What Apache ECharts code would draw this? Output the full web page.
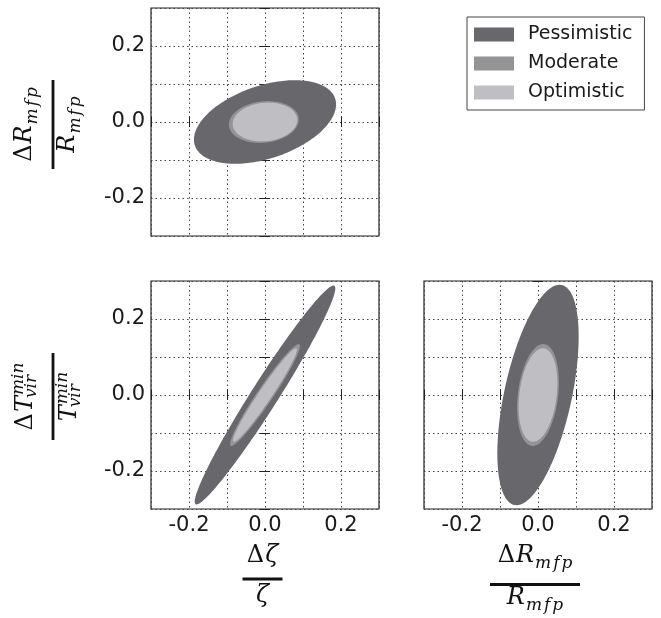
<!DOCTYPE html>
<html><head><meta charset="utf-8">
<script src="https://cdn.jsdelivr.net/npm/echarts@6/dist/echarts.min.js"></script>
<style>html,body{margin:0;padding:0;background:#fff}#c{width:661px;height:618px}</style>
</head><body><div id="c"></div>
<script>
// ---------------- data ----------------
const scenarios = ['Pessimistic', 'Moderate', 'Optimistic'];
const scenarioColors = ['#68686c', '#949497', '#bfbfc3'];
const axisTicks = [-0.3, -0.2, -0.1, 0.0, 0.1, 0.2, 0.3];
const tickLabels = ['', '-0.2', '', '0.0', '', '0.2', ''];

// Error ellipses: half-extent along x, half-extent along y, correlation coefficient
// Panel A (top-left): Δζ/ζ (x) vs ΔRmfp/Rmfp (y)
const panelA_centerX = [0.0, -0.003, 0.0];
const panelA_centerY = [0.0, 0.0, 0.0];
const panelA_halfX = [0.187, 0.092, 0.085];
const panelA_halfY = [0.110, 0.055, 0.051];
const panelA_rho = [0.42, 0.12, 0.10];
// Panel B (bottom-left): Δζ/ζ (x) vs ΔTvir/Tvir (y)
const panelB_centerX = [0.0, 0.0, 0.0];
const panelB_centerY = [0.0, 0.0, 0.0];
const panelB_halfX = [0.185, 0.092, 0.084];
const panelB_halfY = [0.288, 0.134, 0.123];
const panelB_rho = [0.974, 0.962, 0.970];
// Panel C (bottom-right): ΔRmfp/Rmfp (x) vs ΔTvir/Tvir (y)
const panelC_centerX = [0.0, 0.0, 0.0];
const panelC_centerY = [0.0, 0.0, 0.0];
const panelC_halfX = [0.107, 0.055, 0.051];
const panelC_halfY = [0.290, 0.134, 0.123];
const panelC_rho = [0.53, 0.25, 0.25];

// ---------------- chart ----------------
const chart = echarts.init(document.getElementById('c'), null, {renderer: 'canvas'});

const grids = [
  {left: 151, top: 8, width: 228, height: 228},
  {left: 151, top: 281, width: 228, height: 228},
  {left: 424, top: 281, width: 228, height: 228}
];
const showXLabels = [false, true, true];
const showYLabels = [true, true, false];
const tickFont = {fontFamily: 'DejaVu Sans', fontSize: 21, color: '#1a1a1a'};

function labelFmt(v) {
  const i = Math.round((v + 0.3) * 10);
  return tickLabels[i] !== undefined ? tickLabels[i] : '';
}
function baseAxis(extra) {
  return Object.assign({
    type: 'value', min: axisTicks[0], max: axisTicks[axisTicks.length - 1], interval: 0.1,
    axisLine: {show: false},
    axisTick: {show: true, inside: true, length: 5, lineStyle: {color: '#222', width: 1}},
    splitLine: {show: false},
    axisLabel: {show: false}
  }, extra);
}
const xAxes = [], yAxes = [];
grids.forEach((g, i) => {
  xAxes.push(baseAxis({gridIndex: i, position: 'bottom',
    splitLine: {show: true, lineStyle: {color: '#444', type: [1.5, 3], width: 1}},
    axisLabel: Object.assign({show: showXLabels[i], margin: 6, formatter: labelFmt, showMinLabel: true, showMaxLabel: true}, tickFont)}));
  xAxes.push(baseAxis({gridIndex: i, position: 'top'}));
  yAxes.push(baseAxis({gridIndex: i, position: 'left',
    splitLine: {show: true, lineStyle: {color: '#444', type: [1.5, 3], width: 1}},
    axisLabel: Object.assign({show: showYLabels[i], margin: 6, formatter: labelFmt, showMinLabel: true, showMaxLabel: true}, tickFont)}));
  yAxes.push(baseAxis({gridIndex: i, position: 'right'}));
});

function renderEllipse(params, api) {
  const cx = api.value(0), cy = api.value(1), a = api.value(2), b = api.value(3), r = api.value(4);
  const s = Math.sqrt(1 - r * r);
  const pts = [];
  const n = 200;
  for (let k = 0; k < n; k++) {
    const t = 2 * Math.PI * k / n;
    pts.push(api.coord([cx + a * Math.cos(t), cy + b * (r * Math.cos(t) + s * Math.sin(t))]));
  }
  return {type: 'polygon', shape: {points: pts}, style: {fill: api.visual('color')}};
}

const panels = [
  {cx: panelA_centerX, cy: panelA_centerY, hx: panelA_halfX, hy: panelA_halfY, rho: panelA_rho},
  {cx: panelB_centerX, cy: panelB_centerY, hx: panelB_halfX, hy: panelB_halfY, rho: panelB_rho},
  {cx: panelC_centerX, cy: panelC_centerY, hx: panelC_halfX, hy: panelC_halfY, rho: panelC_rho}
];
const series = [];
panels.forEach((p, gi) => {
  scenarios.forEach((name, si) => {
    series.push({
      type: 'custom', name: name,
      xAxisIndex: gi * 2, yAxisIndex: gi * 2,
      itemStyle: {color: scenarioColors[si]},
      renderItem: renderEllipse,
      encode: {x: 0, y: 1},
      silent: true,
      data: [[p.cx[si], p.cy[si], p.hx[si], p.hy[si], p.rho[si]]],
      z: 2 + si
    });
  });
});

// ---------- math-style fraction axis titles ----------
const mctx = document.createElement('canvas').getContext('2d');
const MATH_FONT = '"DejaVu Serif"';
function fontStr(p) { return (p.it ? 'italic ' : '') + p.size + 'px ' + MATH_FONT; }
function layoutRow(pieces) {
  let x = 0, right = 0;
  const out = [];
  pieces.forEach(p => {
    mctx.font = fontStr(p);
    const w = mctx.measureText(p.t).width;
    const px = x + (p.dx || 0);
    out.push({p: p, x: px});
    right = Math.max(right, px + w);
    if (!p.noAdvance) x = px + w + (p.gap || 0);
  });
  return out.map(o => ({p: o.p, x: o.x - right / 2}));
}
function fraction(cx, cy, rot, barLen, num, numBase, den, denBase) {
  const els = [];
  [[num, numBase], [den, denBase]].forEach(([pieces, base]) => {
    layoutRow(pieces).forEach(o => {
      const size = o.p.size;
      const baseline = base + (o.p.dy || 0);
      els.push({type: 'text', x: o.x, y: baseline - 0.35 * size,
        style: {text: o.p.t, font: fontStr(o.p), fill: '#111', align: 'left', verticalAlign: 'middle'}});
    });
  });
  els.push({type: 'rect', shape: {x: -barLen / 2, y: -1.4, width: barLen, height: 2.8}, style: {fill: '#111'}});
  return {type: 'group', x: cx, y: cy, rotation: rot, children: els, silent: true};
}
const M = 24, S = 17;
const numRmfp = [
  {t: 'Δ', size: M, gap: 1},
  {t: 'R', size: M, it: true, gap: 1},
  {t: 'm', size: S, it: true, dy: 6, gap: 2},
  {t: 'f', size: S, it: true, dy: 6, gap: 2},
  {t: 'p', size: S, it: true, dy: 6}
];
const denRmfp = [
  {t: 'R', size: M, it: true, gap: 1},
  {t: 'm', size: S, it: true, dy: 6, gap: 2},
  {t: 'f', size: S, it: true, dy: 6, gap: 2},
  {t: 'p', size: S, it: true, dy: 6}
];
const numTvir = [
  {t: 'Δ', size: M, gap: 1},
  {t: 'T', size: M, it: true, gap: 1},
  {t: 'min', size: S, it: true, dy: -9, noAdvance: true},
  {t: 'vir', size: S, it: true, dy: 4, dx: -3}
];
const denTvir = [
  {t: 'T', size: M, it: true, gap: 1},
  {t: 'min', size: S, it: true, dy: -9, noAdvance: true},
  {t: 'vir', size: S, it: true, dy: 4, dx: -3}
];
const numZeta = [{t: 'Δ', size: M, gap: 1}, {t: 'ζ', size: M, it: true}];
const denZeta = [{t: 'ζ', size: M, it: true}];

const graphics = [
  fraction(53, 124.5, Math.PI / 2, 89, numRmfp, -20, denRmfp, 23),
  fraction(53, 396.5, Math.PI / 2, 87, numTvir, -19, denTvir, 25),
  fraction(262.5, 579, 0, 40, numZeta, -15, denZeta, 25),
  fraction(535, 584.5, 0, 90, numRmfp, -20.5, denRmfp, 21.5)
];

chart.setOption({
  animation: false,
  backgroundColor: '#ffffff',
  grid: grids.map(g => Object.assign({show: true, borderColor: '#222', borderWidth: 1.2, backgroundColor: 'transparent'}, g)),
  xAxis: xAxes,
  yAxis: yAxes,
  legend: {
    data: scenarios.map(n => ({name: n, icon: 'rect'})),
    orient: 'vertical', left: 467, top: 17,
    padding: [8, 12, 8, 7], itemGap: 10, itemWidth: 40, itemHeight: 14,
    borderColor: '#444', borderWidth: 1, backgroundColor: '#fff',
    selectedMode: false,
    textStyle: {fontFamily: 'DejaVu Sans', fontSize: 19, color: '#1a1a1a', padding: [0, 0, 0, 9]}
  },
  graphic: graphics,
  series: series
});
</script></body></html>
